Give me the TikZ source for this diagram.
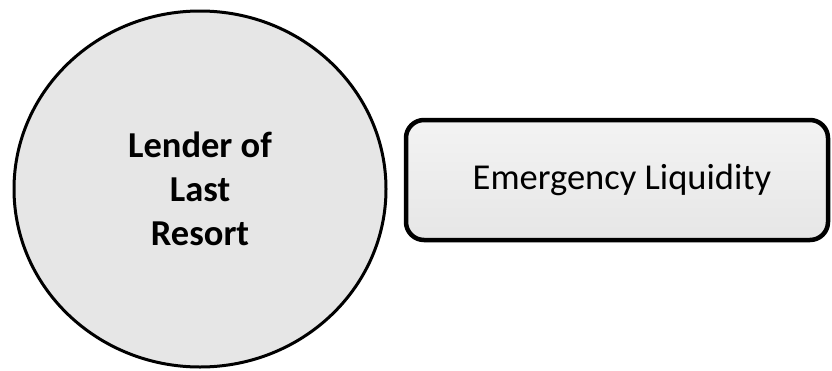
\documentclass[tikz,border=0pt]{standalone}
\usepackage{fontspec}
\setmainfont{Carlito}
\usetikzlibrary{shapes.geometric}
\definecolor{circfill}{HTML}{E6E6E6}
\definecolor{boxtop}{HTML}{F3F3F3}
\definecolor{boxbot}{HTML}{E6E6E6}
\tikzset{
  lenderstyle/.style={ellipse, draw=black, line width=3pt, fill=circfill, minimum width=372pt, minimum height=356pt, inner sep=0pt, align=center, font=\fontsize{36.5}{44}\selectfont\bfseries},
  liqstyle/.style={rectangle, rounded corners=18pt, draw=black, line width=4.5pt, top color=boxtop, bottom color=boxbot, minimum width=422pt, minimum height=120pt, inner sep=0pt, font=\fontsize{36.5}{44}\selectfont}
}
\begin{document}
\begin{tikzpicture}[x=1pt,y=-1pt]
\useasboundingbox (0,0) rectangle (832,370);
\node[lenderstyle] (lender) at (200,189) {Lender of\\Last\\Resort};
\node[liqstyle] (liq) at (617,180) {\hspace*{10pt}Emergency Liquidity};
\end{tikzpicture}
\end{document}
